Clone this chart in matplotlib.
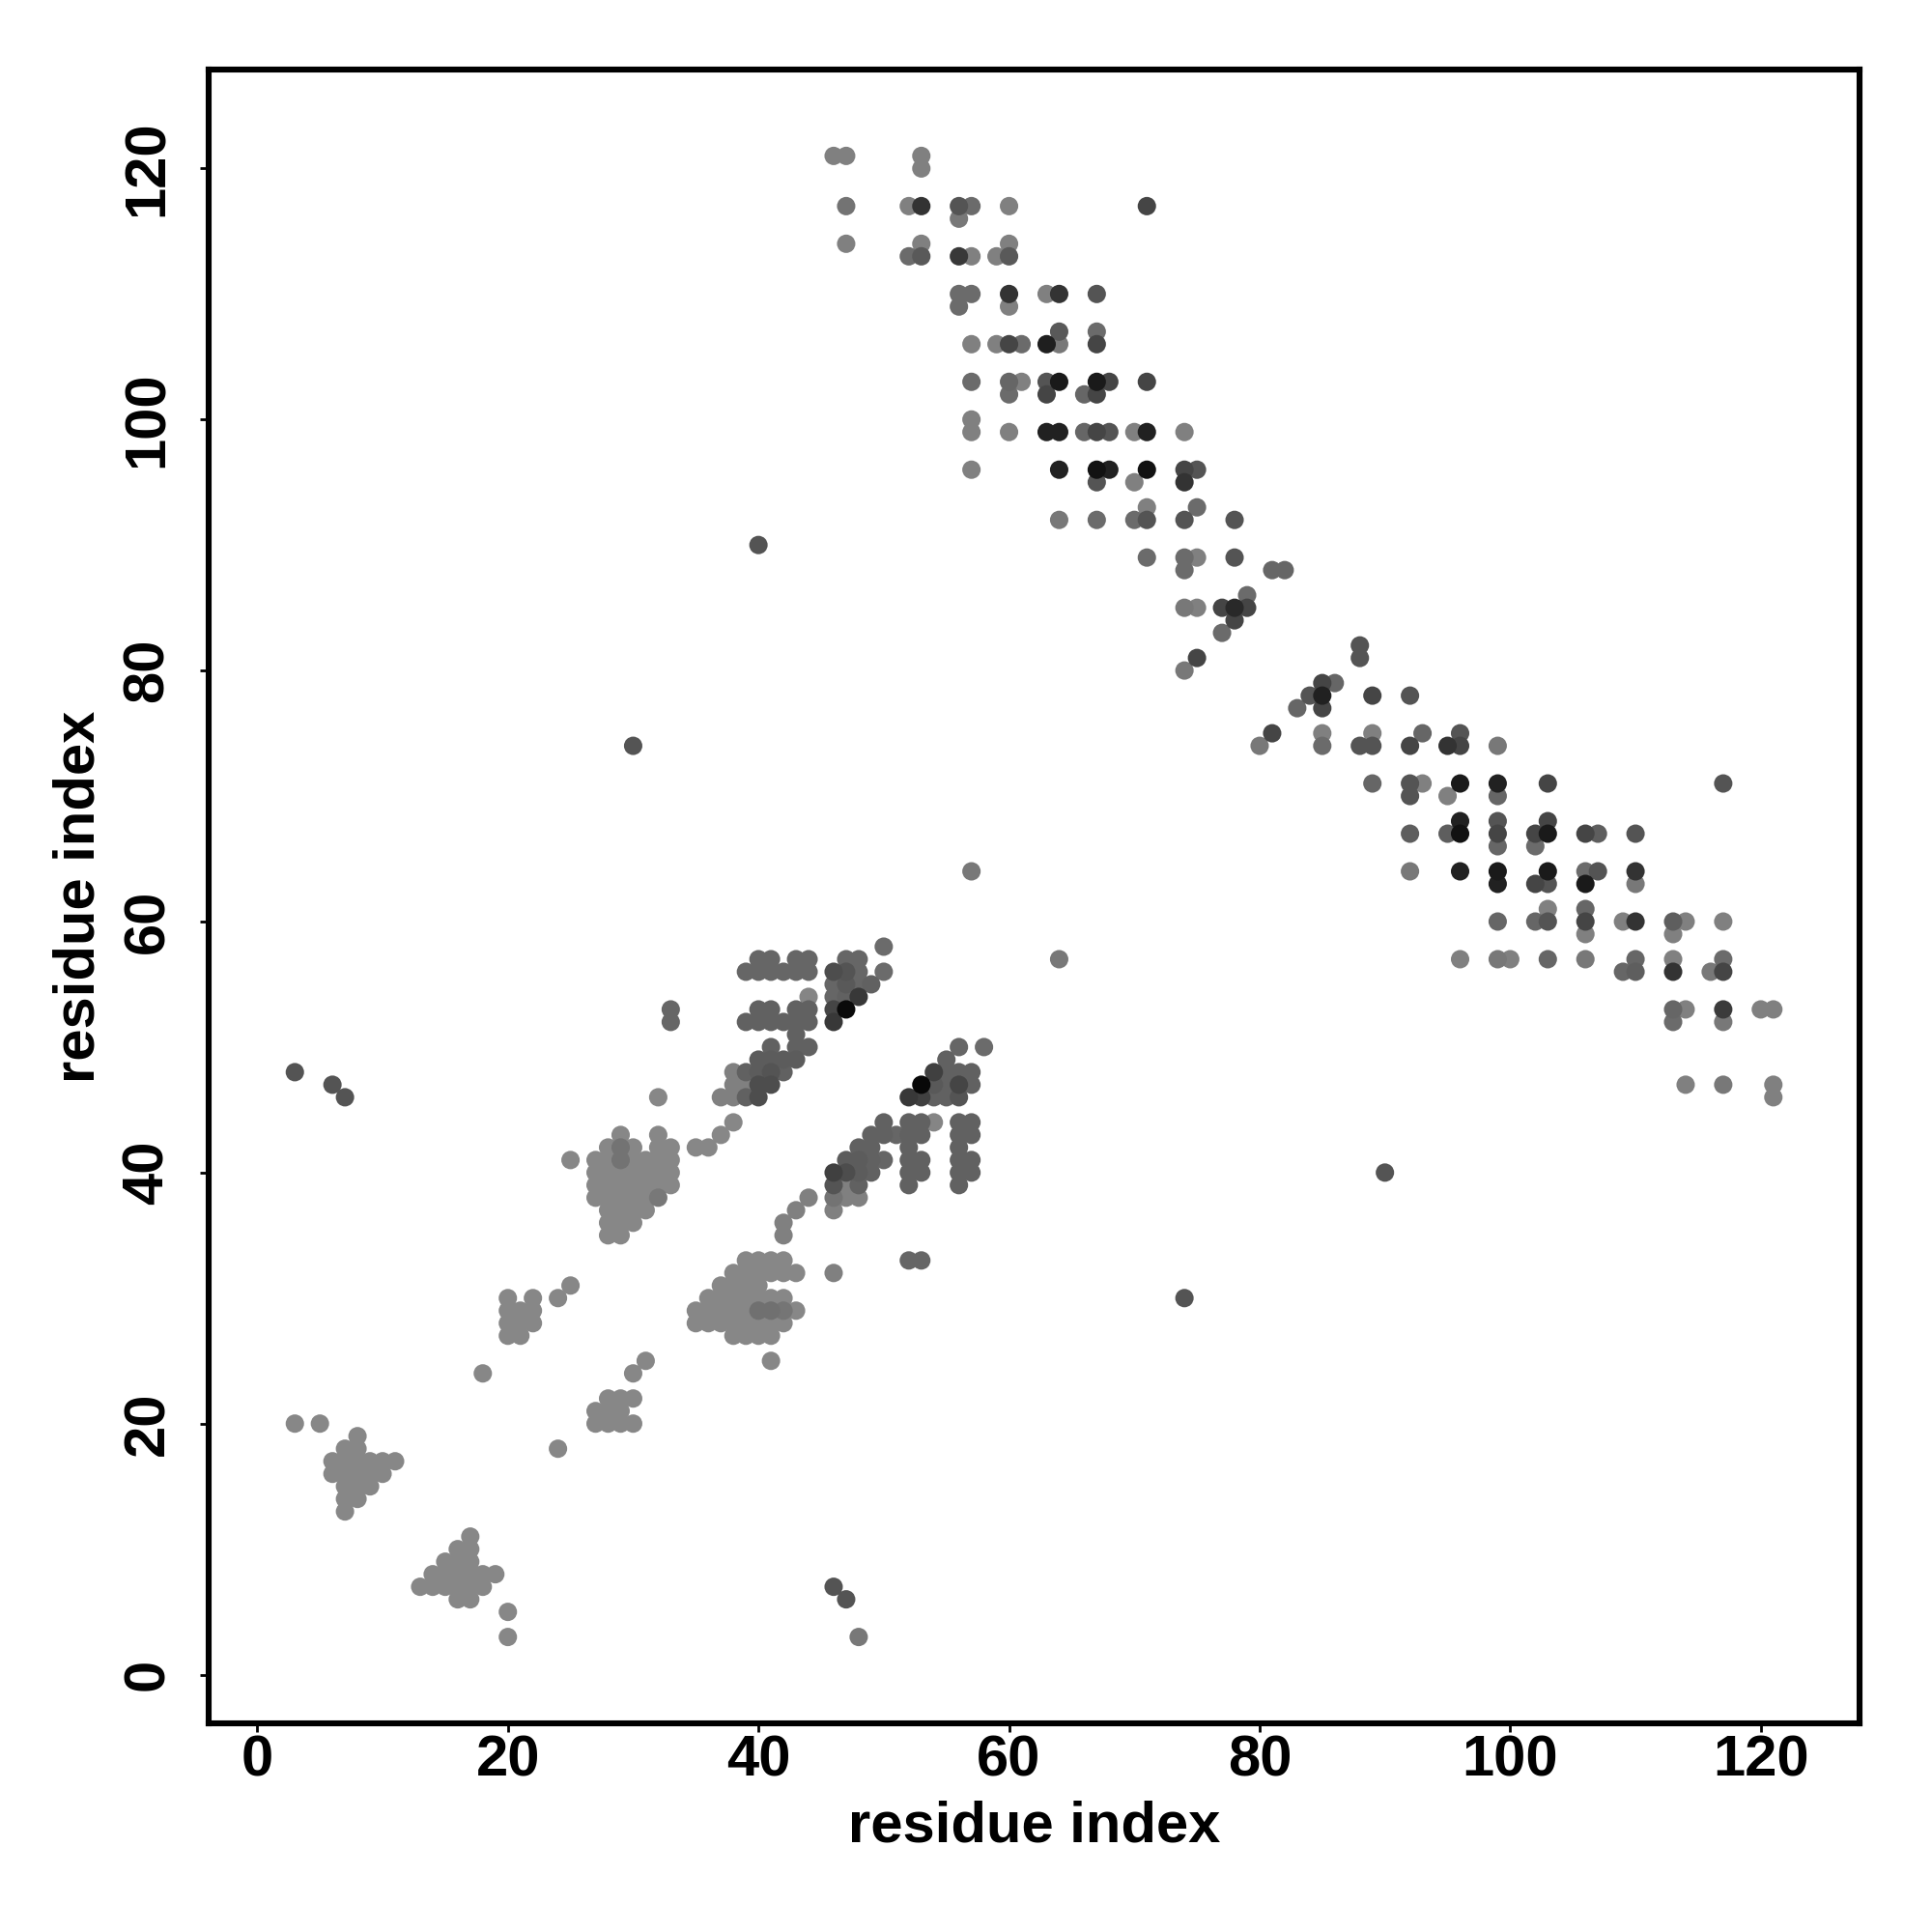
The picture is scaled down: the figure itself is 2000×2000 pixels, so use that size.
import matplotlib
matplotlib.use('Agg')
import matplotlib.pyplot as plt
import numpy as np

# ---------------- data: (i, j, gray level) ----------------
L = 0.53  # light gray used in the lower-left clusters

near_origin = [
    (3, 20, L), (5, 20, L),
    (8, 19, L), (7, 18, L), (8, 18, L),
    (6, 17, L), (7, 17, L), (8, 17, L), (9, 17, L), (10, 17, L), (11, 17, L),
    (6, 16, L), (7, 16, L), (8, 16, L), (9, 16, L), (10, 16, L),
    (7, 15, L), (8, 15, L), (9, 15, L), (7, 14, L), (8, 14, L), (7, 13, L),
    (17, 11, L), (16, 10, L), (17, 10, L), (15, 9, L), (16, 9, L), (17, 9, L),
    (14, 8, L), (15, 8, L), (16, 8, L), (17, 8, L), (18, 8, L), (19, 8, L),
    (13, 7, L), (14, 7, L), (15, 7, L), (16, 7, L), (17, 7, L), (18, 7, L),
    (16, 6, L), (17, 6, L), (20, 5, L), (20, 3, L),
]

band_20_30 = [
    (18, 24, L), (24, 18, L),
    (20, 27, L), (21, 27, L), (20, 28, L), (21, 28, L), (22, 28, L),
    (20, 29, L), (21, 29, L), (22, 29, L), (20, 30, L), (22, 30, L),
    (24, 30, L), (25, 31, L), (30, 24, L), (31, 25, L),
    (27, 20, L), (28, 20, L), (29, 20, L), (30, 20, L),
    (27, 21, L), (28, 21, L), (29, 21, L), (28, 22, L), (29, 22, L), (30, 22, L),
    (25, 41, L), (32, 46, L), (35, 42, L), (36, 42, L), (37, 43, L), (38, 44, L),
    (41, 25, L), (46, 32, 0.50), (42, 35, 0.50), (42, 36, 0.50), (43, 37, 0.50), (44, 38, 0.50),
]

cluster_28_39 = [
    (29, 43, L), (32, 43, L),
    (28, 42, L), (29, 42, 0.45), (30, 42, L), (32, 42, L), (33, 42, L),
    (27, 41, L), (28, 41, L), (29, 41, 0.45), (30, 41, L), (31, 41, L), (32, 41, L), (33, 41, L),
    (27, 40, L), (28, 40, L), (29, 40, L), (30, 40, L), (31, 40, L), (32, 40, L), (33, 40, L),
    (27, 39, L), (28, 39, L), (29, 39, L), (30, 39, L), (31, 39, L), (32, 39, L), (33, 39, L),
    (27, 38, L), (28, 38, L), (29, 38, L), (30, 38, L), (31, 38, L), (32, 38, 0.47),
    (28, 37, L), (29, 37, L), (30, 37, L), (31, 37, L),
    (28, 36, L), (29, 36, L), (30, 36, L), (28, 35, L), (29, 35, L),
]

cluster_39_30 = [
    (39, 33, L), (40, 33, L), (41, 33, L), (42, 33, L),
    (38, 32, L), (39, 32, L), (40, 32, L), (41, 32, L), (42, 32, L), (43, 32, L),
    (37, 31, L), (38, 31, L), (39, 31, L), (40, 31, L),
    (36, 30, L), (37, 30, L), (38, 30, L), (39, 30, L), (40, 30, L), (41, 30, L), (42, 30, L),
    (35, 29, L), (36, 29, L), (37, 29, L), (38, 29, L), (39, 29, L), (40, 29, 0.44),
    (41, 29, 0.44), (42, 29, 0.46), (43, 29, L),
    (35, 28, L), (36, 28, L), (37, 28, L), (38, 28, L), (39, 28, L), (40, 28, L), (41, 28, L), (42, 28, L),
    (38, 27, L), (39, 27, L), (40, 27, L), (41, 27, L),
]

band_upper_left = [
    (50, 58, 0.42),
    (40, 57, 0.40), (41, 57, 0.40), (43, 57, 0.40), (44, 57, 0.40), (47, 57, 0.40), (48, 57, 0.40),
    (39, 56, 0.40), (40, 56, 0.40), (41, 56, 0.40), (42, 56, 0.40), (43, 56, 0.40), (44, 56, 0.40),
    (46, 56, 0.30), (47, 56, 0.33), (48, 56, 0.40), (50, 56, 0.42),
    (46, 55, 0.40), (47, 55, 0.35), (48, 55, 0.40), (49, 55, 0.38),
    (44, 54, 0.52), (46, 54, 0.40), (47, 54, 0.38), (48, 54, 0.22),
    (33, 53, 0.40), (40, 53, 0.38), (41, 53, 0.38), (43, 53, 0.38), (44, 53, 0.38),
    (46, 53, 0.27), (47, 53, 0.04),
    (33, 52, 0.40), (39, 52, 0.38), (40, 52, 0.38), (41, 52, 0.38), (42, 52, 0.38),
    (43, 52, 0.38), (44, 52, 0.38), (46, 52, 0.22),
    (43, 51, 0.38), (41, 50, 0.38), (43, 50, 0.38), (44, 50, 0.38),
    (40, 49, 0.36), (41, 49, 0.36), (42, 49, 0.36), (43, 49, 0.36),
    (38, 48, 0.50), (39, 48, 0.38), (40, 48, 0.36), (41, 48, 0.33), (42, 48, 0.38),
    (38, 47, 0.50), (39, 47, 0.50), (40, 47, 0.30), (41, 47, 0.30),
    (37, 46, 0.50), (38, 46, 0.50), (39, 46, 0.38), (40, 46, 0.30),
]

band_lower_right = [
    (56, 50, 0.40), (58, 50, 0.42), (55, 49, 0.38),
    (54, 48, 0.25), (55, 48, 0.38), (56, 48, 0.38), (57, 48, 0.38),
    (53, 47, 0.03), (54, 47, 0.35), (55, 47, 0.38), (56, 47, 0.27), (57, 47, 0.38),
    (52, 46, 0.22), (53, 46, 0.25), (54, 46, 0.38), (55, 46, 0.38), (56, 46, 0.33),
    (50, 44, 0.38), (52, 44, 0.38), (53, 44, 0.38), (54, 44, 0.52), (56, 44, 0.38), (57, 44, 0.38),
    (49, 43, 0.38), (50, 43, 0.38), (51, 43, 0.40), (52, 43, 0.38), (53, 43, 0.38),
    (56, 43, 0.38), (57, 43, 0.38),
    (48, 42, 0.38), (49, 42, 0.38), (52, 42, 0.38), (56, 42, 0.38),
    (47, 41, 0.36), (48, 41, 0.36), (49, 41, 0.38), (50, 41, 0.40), (52, 41, 0.38),
    (53, 41, 0.38), (56, 41, 0.38), (57, 41, 0.38),
    (46, 40, 0.25), (47, 40, 0.30), (48, 40, 0.36), (49, 40, 0.38), (52, 40, 0.38),
    (53, 40, 0.38), (56, 40, 0.38), (57, 40, 0.38),
    (46, 39, 0.33), (47, 39, 0.50), (48, 39, 0.38), (52, 39, 0.38), (56, 39, 0.38),
    (46, 38, 0.45), (47, 38, 0.50), (48, 38, 0.50), (46, 37, 0.50),
    (52, 33, 0.40), (53, 33, 0.40),
]

band_top = [
    (46, 121, 0.50), (47, 121, 0.50), (53, 121, 0.50), (53, 120, 0.50),
    (47, 117, 0.45), (52, 117, 0.50), (53, 117, 0.20), (56, 117, 0.33), (57, 117, 0.42),
    (60, 117, 0.50), (71, 117, 0.27), (56, 116, 0.47),
    (47, 114, 0.50), (53, 114, 0.50), (60, 114, 0.50),
    (52, 113, 0.42), (53, 113, 0.35), (56, 113, 0.22), (57, 113, 0.50), (59, 113, 0.50), (60, 113, 0.35),
    (56, 110, 0.42), (57, 110, 0.42), (60, 110, 0.20), (63, 110, 0.50), (64, 110, 0.20), (67, 110, 0.33),
    (56, 109, 0.42), (60, 109, 0.50), (64, 107, 0.35), (67, 107, 0.42),
    (57, 106, 0.50), (59, 106, 0.50), (60, 106, 0.27), (61, 106, 0.42), (63, 106, 0.12),
    (64, 106, 0.47), (67, 106, 0.27),
    (57, 103, 0.42), (60, 103, 0.40), (61, 103, 0.50), (63, 103, 0.33), (64, 103, 0.10),
    (67, 103, 0.10), (68, 103, 0.27), (71, 103, 0.27),
    (60, 102, 0.42), (63, 102, 0.27), (66, 102, 0.40), (67, 102, 0.27),
    (57, 100, 0.50),
    (57, 99, 0.50), (60, 99, 0.50), (63, 99, 0.13), (64, 99, 0.13), (66, 99, 0.40), (67, 99, 0.27),
    (68, 99, 0.33), (70, 99, 0.50), (71, 99, 0.13), (74, 99, 0.50),
    (57, 96, 0.50), (64, 96, 0.13), (67, 96, 0.07), (68, 96, 0.13), (71, 96, 0.07),
    (74, 96, 0.27), (75, 96, 0.33),
    (67, 95, 0.33), (70, 95, 0.50), (74, 95, 0.20),
]

band_middle = [
    (71, 93, 0.50), (75, 93, 0.42),
    (64, 92, 0.47), (67, 92, 0.42), (70, 92, 0.42), (71, 92, 0.33), (74, 92, 0.33), (78, 92, 0.33),
    (71, 89, 0.42), (74, 89, 0.42), (75, 89, 0.50), (78, 89, 0.33),
    (74, 88, 0.42), (81, 88, 0.40), (82, 88, 0.40), (79, 86, 0.42),
    (74, 85, 0.47), (75, 85, 0.50), (77, 85, 0.27), (78, 85, 0.16), (79, 85, 0.27),
    (78, 84, 0.27), (77, 83, 0.42), (75, 81, 0.27), (74, 80, 0.47),
    (88, 82, 0.33), (88, 81, 0.33), (85, 79, 0.27), (86, 79, 0.40),
    (84, 78, 0.33), (85, 78, 0.13), (89, 78, 0.27), (92, 78, 0.33),
    (83, 77, 0.40), (85, 77, 0.27),
    (81, 75, 0.27), (85, 75, 0.50), (89, 75, 0.50), (93, 75, 0.40), (96, 75, 0.33),
    (80, 74, 0.47), (85, 74, 0.42), (88, 74, 0.33), (89, 74, 0.33), (92, 74, 0.27),
    (95, 74, 0.20), (96, 74, 0.27), (99, 74, 0.47),
]

band_right = [
    (89, 71, 0.40), (92, 71, 0.33), (93, 71, 0.50), (96, 71, 0.10), (99, 71, 0.13), (103, 71, 0.27),
    (117, 71, 0.33),
    (92, 70, 0.33), (95, 70, 0.50), (99, 70, 0.40),
    (96, 68, 0.13), (99, 68, 0.33), (103, 68, 0.27),
    (92, 67, 0.37), (95, 67, 0.37), (96, 67, 0.07), (99, 67, 0.27), (102, 67, 0.27), (103, 67, 0.10),
    (106, 67, 0.27), (107, 67, 0.37), (110, 67, 0.33),
    (99, 66, 0.40), (102, 66, 0.42),
    (92, 64, 0.47), (96, 64, 0.13), (99, 64, 0.10), (103, 64, 0.10),
    (106, 64, 0.42), (107, 64, 0.33), (110, 64, 0.20),
    (99, 63, 0.13), (102, 63, 0.27), (103, 63, 0.33), (106, 63, 0.10), (110, 63, 0.47),
    (103, 61, 0.50), (106, 61, 0.40),
    (99, 60, 0.40), (102, 60, 0.40), (103, 60, 0.33), (106, 60, 0.27), (109, 60, 0.50),
    (110, 60, 0.20), (113, 60, 0.37), (114, 60, 0.50), (117, 60, 0.50),
    (106, 59, 0.50), (113, 59, 0.50),
    (96, 57, 0.50), (99, 57, 0.47), (100, 57, 0.50), (103, 57, 0.40), (106, 57, 0.47),
    (110, 57, 0.40), (113, 57, 0.50), (117, 57, 0.42),
    (109, 56, 0.40), (110, 56, 0.37), (113, 56, 0.20), (116, 56, 0.47), (117, 56, 0.27),
    (113, 53, 0.40), (114, 53, 0.50), (117, 53, 0.23), (120, 53, 0.50), (121, 53, 0.50),
    (113, 52, 0.42), (117, 52, 0.47),
    (114, 47, 0.50), (117, 47, 0.47), (121, 47, 0.50), (121, 46, 0.50),
]

isolated = [
    (3, 48, 0.33), (6, 47, 0.33), (7, 46, 0.33), (30, 74, 0.33), (40, 90, 0.33),
    (57, 64, 0.47), (64, 57, 0.47), (74, 30, 0.33), (90, 40, 0.33),
    (46, 7, 0.33), (47, 6, 0.33), (48, 3, 0.47),
]

x_ticks = [0, 20, 40, 60, 80, 100, 120]
y_ticks = [0, 20, 40, 60, 80, 100, 120]
x_label = "residue index"
y_label = "residue index"

# ---------------- plotting ----------------
plt.rcParams['font.family'] = ['Liberation Sans', 'DejaVu Sans']

groups = [near_origin, band_20_30, cluster_28_39, cluster_39_30, band_upper_left,
          band_lower_right, band_top, band_middle, band_right, isolated]
pts = [p for g in groups for p in g]
pts.sort(key=lambda p: -p[2])  # lighter first, darker on top
xi = np.array([p[0] for p in pts], float)
yi = np.array([p[1] for p in pts], float)
gi = np.array([p[2] for p in pts], float)
colors = [(g, g, g) for g in gi]

fig = plt.figure(figsize=(10, 10), dpi=200)
ax = fig.add_axes([0.108, 0.108, 0.8545, 0.856])
ax.scatter(xi, yi, s=47, c=colors, linewidths=0, zorder=3)

ax.set_xlim(-3.88, 127.88)
ax.set_ylim(-3.88, 127.88)
ax.set_xticks(x_ticks)
ax.set_yticks(y_ticks)
ax.set_xticklabels([str(t) for t in x_ticks], fontsize=21.5, fontweight='bold')
ax.set_yticklabels([str(t) for t in y_ticks], fontsize=21.5, fontweight='bold',
                   rotation=90, va='center')
ax.tick_params(axis='both', direction='out', length=3.3, width=1.0, colors='black')
ax.tick_params(axis='x', pad=0.8)
ax.tick_params(axis='y', pad=9.3)
for sp in ax.spines.values():
    sp.set_linewidth(2.2)
    sp.set_color('black')

ax.set_xlabel(x_label, fontsize=21.5, fontweight='bold')
ax.set_ylabel(y_label, fontsize=21.5, fontweight='bold')
ax.xaxis.set_label_coords(0.5, -0.0625)
ax.xaxis.label.set_verticalalignment('center')
ax.yaxis.set_label_coords(-0.0785, 0.5)
ax.yaxis.label.set_verticalalignment('center')
ax.yaxis.label.set_horizontalalignment('center')

fig.savefig('out.png', dpi=200, facecolor='white')
